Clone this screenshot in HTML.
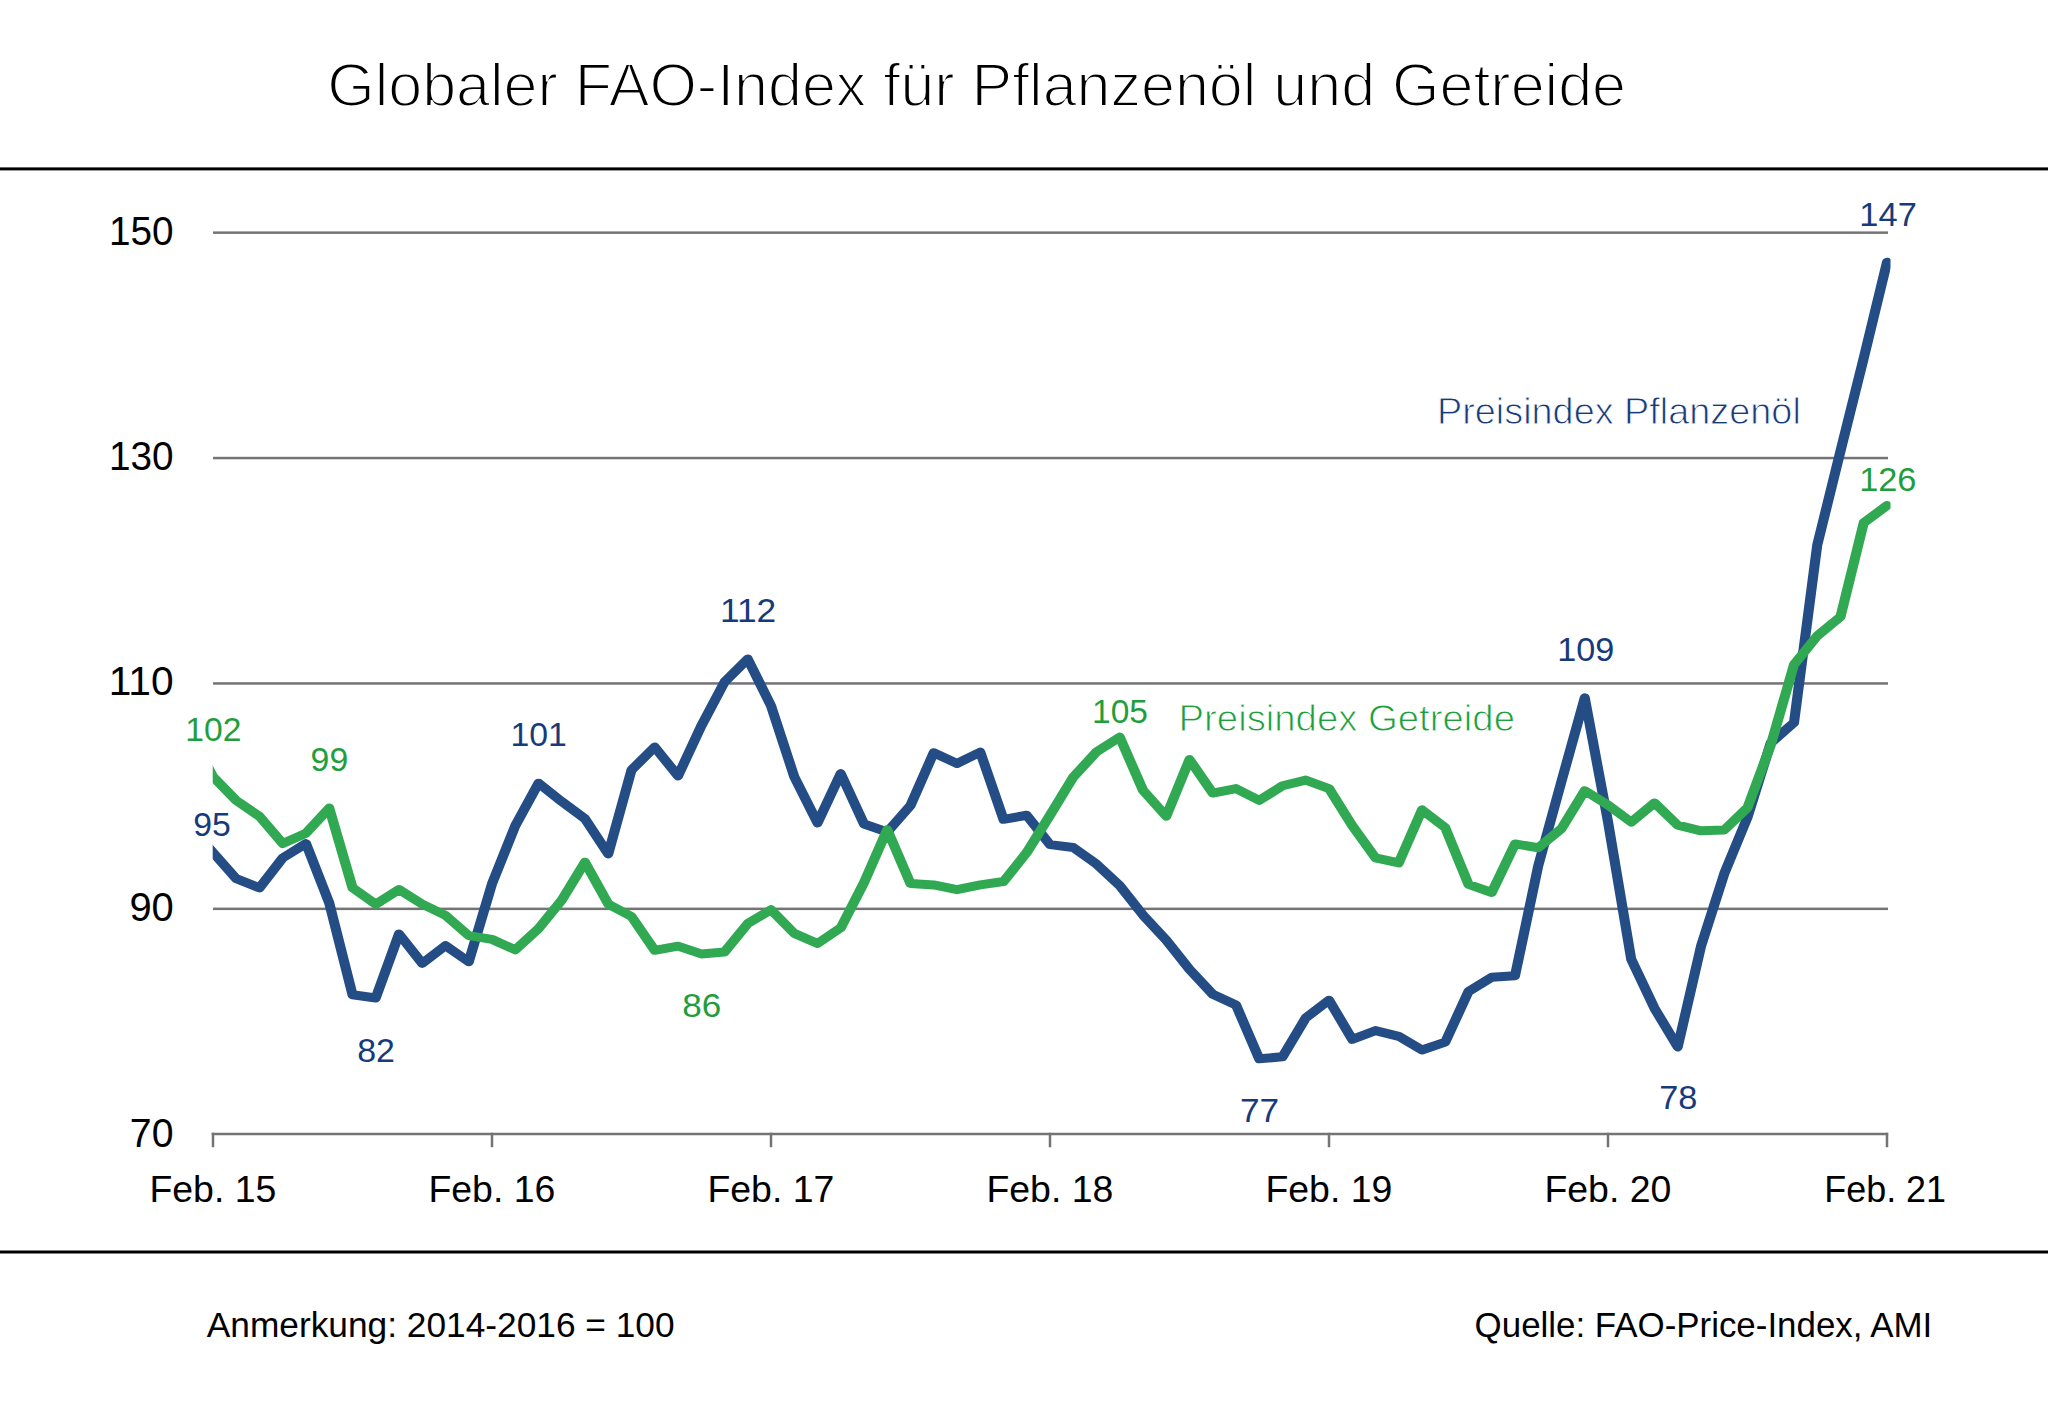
<!DOCTYPE html>
<html lang="de"><head><meta charset="utf-8"><title>Globaler FAO-Index für Pflanzenöl und Getreide</title>
<style>
html,body{margin:0;padding:0;background:#fff;}
body{width:2048px;height:1402px;overflow:hidden;}
svg{display:block;}
text{font-family:"Liberation Sans",Arial,sans-serif;}
</style></head><body>
<svg width="2048" height="1402" viewBox="0 0 2048 1402">
<rect x="0" y="0" width="2048" height="1402" fill="#fff"/>
<rect x="0" y="167.4" width="2048" height="3" fill="#000"/>
<rect x="0" y="1250.5" width="2048" height="3" fill="#000"/>
<rect x="213" y="231.40" width="1675" height="2.5" fill="#767375"/>
<rect x="213" y="456.80" width="1675" height="2.5" fill="#767375"/>
<rect x="213" y="682.20" width="1675" height="2.5" fill="#767375"/>
<rect x="213" y="907.60" width="1675" height="2.5" fill="#767375"/>
<rect x="211.7" y="1132.75" width="1676.5" height="2.5" fill="#767375"/>
<rect x="211.75" y="1132.75" width="2.5" height="14.5" fill="#767375"/>
<rect x="490.75" y="1132.75" width="2.5" height="14.5" fill="#767375"/>
<rect x="769.75" y="1132.75" width="2.5" height="14.5" fill="#767375"/>
<rect x="1048.75" y="1132.75" width="2.5" height="14.5" fill="#767375"/>
<rect x="1327.75" y="1132.75" width="2.5" height="14.5" fill="#767375"/>
<rect x="1606.75" y="1132.75" width="2.5" height="14.5" fill="#767375"/>
<rect x="1885.75" y="1132.75" width="2.5" height="14.5" fill="#767375"/>
<defs><clipPath id="pc"><rect x="212.7" y="150" width="1677.8" height="1000"/></clipPath></defs>
<g clip-path="url(#pc)" fill="none" stroke-width="9" stroke-linejoin="round" stroke-linecap="round">
<g transform="scale(1.12 1)">
<polyline points="169.420,826.33 190.179,852.48 210.937,878.73 231.696,887.90 252.455,857.88 273.214,843.57 293.973,902.97 314.732,994.82 335.491,997.97 356.250,934.00 377.009,963.44 397.768,945.64 418.527,961.72 439.286,883.81 460.045,825.65 480.804,783.16 501.562,801.54 522.321,818.78 543.080,853.94 563.839,769.98 584.598,747.10 605.357,775.95 626.116,726.03 646.875,682.07 667.634,658.97 688.393,705.74 709.152,776.74 729.911,822.95 750.670,773.62 771.429,824.08 792.187,831.96 812.946,805.48 833.705,752.66 854.464,763.56 875.223,752.07 895.982,819.31 916.741,815.28 937.500,844.59 958.259,847.52 979.018,864.08 999.777,885.61 1020.536,915.02 1041.295,940.16 1062.054,969.46 1082.812,994.25 1103.571,1004.96 1124.330,1058.83 1145.089,1056.80 1165.848,1017.92 1186.607,1000.15 1207.366,1039.30 1228.125,1030.54 1248.884,1036.29 1269.643,1050.00 1290.402,1042.15 1311.161,991.43 1331.920,977.20 1352.679,975.77 1373.437,865.77 1394.196,781.25 1414.955,697.85 1435.714,821.82 1456.473,959.32 1477.232,1008.34 1497.991,1046.96 1518.750,946.35 1539.509,873.66 1560.268,817.31 1581.027,742.93 1601.786,722.64 1622.545,545.03 1643.304,451.04 1664.062,358.06 1684.821,262.27" stroke="#244c85"/>
<polyline points="169.420,732.79 190.179,776.74 210.937,800.49 231.696,816.38 252.455,843.57 273.214,833.21 293.973,808.05 314.732,887.75 335.491,904.24 356.250,889.52 377.009,904.09 397.768,915.36 418.527,935.65 439.286,939.37 460.045,949.85 480.804,928.55 501.562,900.15 522.321,862.17 543.080,904.09 563.839,916.49 584.598,950.30 605.357,946.13 626.116,953.91 646.875,951.99 667.634,923.59 688.393,909.73 709.152,933.39 729.911,943.54 750.670,927.76 771.429,882.68 792.187,829.71 812.946,883.55 833.705,884.93 854.464,889.66 875.223,884.93 895.982,881.55 916.741,852.48 937.500,815.28 958.259,777.19 979.018,751.95 999.777,737.10 1020.536,790.26 1041.295,816.26 1062.054,759.53 1082.812,793.08 1103.571,788.57 1124.330,800.41 1145.089,785.76 1165.848,780.12 1186.607,788.57 1207.366,825.65 1228.125,857.88 1248.884,862.96 1269.643,809.81 1290.402,827.68 1311.161,884.37 1331.920,892.44 1352.679,843.92 1373.437,847.74 1394.196,828.58 1414.955,790.65 1435.714,804.92 1456.473,822.13 1477.232,802.92 1497.991,825.20 1518.750,830.84 1539.509,830.05 1560.268,807.62 1581.027,745.18 1601.786,664.60 1622.545,635.87 1643.304,616.71 1664.062,522.72 1684.821,505.58" stroke="#31a852"/>
</g>
</g>
<text x="327.27" y="105.6" font-size="62" textLength="1298.73" lengthAdjust="spacingAndGlyphs" fill="#000" stroke="#fff" stroke-width="1.9">Globaler FAO-Index für Pflanzenöl und Getreide</text>
<text x="108.94" y="244.8" font-size="40.6" textLength="64.59" lengthAdjust="spacingAndGlyphs" fill="#000">150</text>
<text x="108.94" y="469.8" font-size="40.6" textLength="64.59" lengthAdjust="spacingAndGlyphs" fill="#000">130</text>
<text x="108.79" y="695.0" font-size="40.6" textLength="64.81" lengthAdjust="spacingAndGlyphs" fill="#000">110</text>
<text x="129.44" y="920.8" font-size="40.6" textLength="44.37" lengthAdjust="spacingAndGlyphs" fill="#000">90</text>
<text x="129.85" y="1146.5" font-size="40.6" textLength="43.64" lengthAdjust="spacingAndGlyphs" fill="#000">70</text>
<text x="149.40" y="1201.9" font-size="37.5" textLength="126.97" lengthAdjust="spacingAndGlyphs" fill="#000">Feb. 15</text>
<text x="428.40" y="1201.9" font-size="37.5" textLength="126.97" lengthAdjust="spacingAndGlyphs" fill="#000">Feb. 16</text>
<text x="707.40" y="1201.9" font-size="37.5" textLength="126.97" lengthAdjust="spacingAndGlyphs" fill="#000">Feb. 17</text>
<text x="986.40" y="1201.9" font-size="37.5" textLength="126.97" lengthAdjust="spacingAndGlyphs" fill="#000">Feb. 18</text>
<text x="1265.40" y="1201.9" font-size="37.5" textLength="126.97" lengthAdjust="spacingAndGlyphs" fill="#000">Feb. 19</text>
<text x="1544.40" y="1201.9" font-size="37.5" textLength="126.97" lengthAdjust="spacingAndGlyphs" fill="#000">Feb. 20</text>
<text x="1824.32" y="1201.9" font-size="37.5" textLength="121.69" lengthAdjust="spacingAndGlyphs" fill="#000">Feb. 21</text>
<text x="185.22" y="741.2" font-size="34" textLength="56.20" lengthAdjust="spacingAndGlyphs" fill="#1f9e3d">102</text>
<text x="193.21" y="836.4" font-size="34" textLength="37.61" lengthAdjust="spacingAndGlyphs" fill="#173b7a">95</text>
<text x="310.61" y="771.2" font-size="34" textLength="37.61" lengthAdjust="spacingAndGlyphs" fill="#1f9e3d">99</text>
<text x="357.20" y="1062" font-size="34" textLength="37.72" lengthAdjust="spacingAndGlyphs" fill="#173b7a">82</text>
<text x="510.41" y="746.3" font-size="34" textLength="56.41" lengthAdjust="spacingAndGlyphs" fill="#173b7a">101</text>
<text x="682.36" y="1016.8" font-size="34" textLength="39.02" lengthAdjust="spacingAndGlyphs" fill="#1f9e3d">86</text>
<text x="719.90" y="622" font-size="34" textLength="56.39" lengthAdjust="spacingAndGlyphs" fill="#173b7a">112</text>
<text x="1092.04" y="723.4" font-size="34" textLength="55.88" lengthAdjust="spacingAndGlyphs" fill="#1f9e3d">105</text>
<text x="1239.93" y="1122.3" font-size="34" textLength="39.16" lengthAdjust="spacingAndGlyphs" fill="#173b7a">77</text>
<text x="1557.19" y="661" font-size="34" textLength="57.06" lengthAdjust="spacingAndGlyphs" fill="#173b7a">109</text>
<text x="1659.19" y="1108.9" font-size="34" textLength="38.15" lengthAdjust="spacingAndGlyphs" fill="#173b7a">78</text>
<text x="1859.37" y="226.2" font-size="34" textLength="57.48" lengthAdjust="spacingAndGlyphs" fill="#173b7a">147</text>
<text x="1859.18" y="491.3" font-size="34" textLength="57.27" lengthAdjust="spacingAndGlyphs" fill="#1f9e3d">126</text>
<text x="1436.98" y="423.6" font-size="37.6" textLength="363.83" lengthAdjust="spacingAndGlyphs" fill="#173b7a" stroke="#fff" stroke-width="0.9">Preisindex Pflanzenöl</text>
<text x="1178.53" y="730.7" font-size="37.6" textLength="336.45" lengthAdjust="spacingAndGlyphs" fill="#1f9e3d" stroke="#fff" stroke-width="0.9">Preisindex Getreide</text>
<text x="206.80" y="1337.1" font-size="35" textLength="467.81" lengthAdjust="spacingAndGlyphs" fill="#000">Anmerkung: 2014-2016 = 100</text>
<text x="1474.61" y="1337.2" font-size="35" textLength="457.65" lengthAdjust="spacingAndGlyphs" fill="#000">Quelle: FAO-Price-Index, AMI</text>
</svg>
</body></html>
